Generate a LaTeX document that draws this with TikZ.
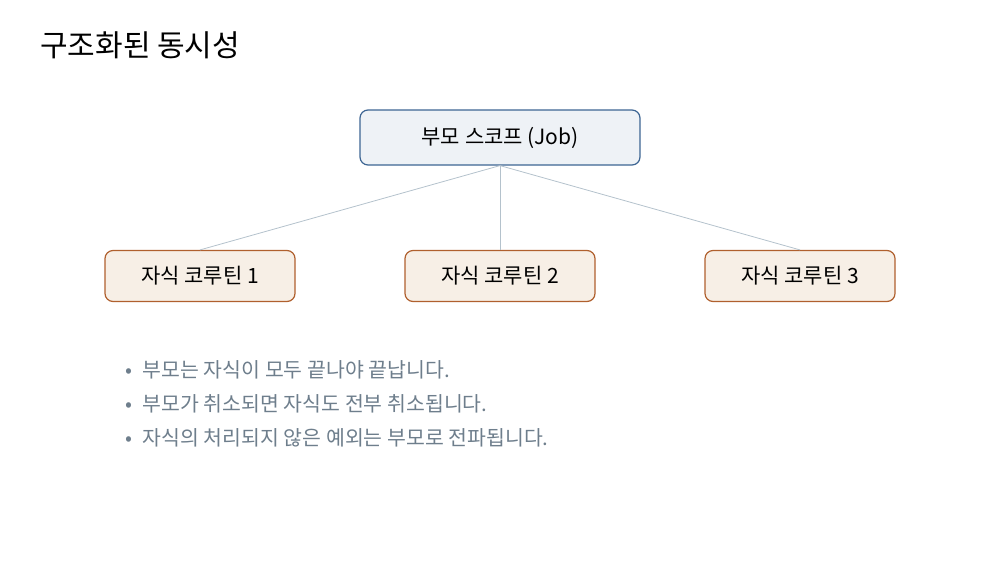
\documentclass[tikz,border=0pt]{standalone}
\usepackage{fontspec}
\setmainfont{Noto Sans CJK KR}
\usetikzlibrary{positioning}
\definecolor{jobfill}{HTML}{EEF2F6}
\definecolor{jobline}{HTML}{3D6593}
\definecolor{kidfill}{HTML}{F7EFE6}
\definecolor{kidline}{HTML}{B0602E}
\definecolor{linkgray}{HTML}{B4C2CC}
\definecolor{notegray}{HTML}{6E7E8C}
\tikzset{
  parent/.style={draw=jobline,fill=jobfill,line width=1.2pt,rounded corners=8pt,
    minimum width=280pt,minimum height=55pt,font=\fontsize{21}{24}\selectfont},
  kid/.style={draw=kidline,fill=kidfill,line width=1.2pt,rounded corners=8pt,
    minimum width=190pt,minimum height=51pt,font=\fontsize{21}{24}\selectfont},
  link/.style={draw=linkgray,line width=.8pt},
  note/.style={anchor=west,text=notegray,font=\fontsize{20.5}{24}\selectfont}
}
\begin{document}
\begin{tikzpicture}[x=1pt,y=-1pt]
\useasboundingbox (0,0) rectangle (1000,560);
\node[anchor=west,inner sep=0pt,font=\fontsize{30}{36}\selectfont] (title) at (40,45) {구조화된 동시성};
%
% tree
\node[parent] (job) at (500,137.5) {부모 스코프 (Job)};
\node[kid] (kid1) at (200,276) {자식 코루틴 1};
\node[kid] (kid2) at (500,276) {자식 코루틴 2};
\node[kid] (kid3) at (800,276) {자식 코루틴 3};
\foreach \k in {kid1,kid2,kid3}
\draw[link] (job.south) -- (\k.north);
%
% notes
\node[note] (n1) at (122,370) {\textbullet\enspace 부모는 자식이 모두 끝나야 끝납니다.};
\node[note] (n2) at (122,404) {\textbullet\enspace 부모가 취소되면 자식도 전부 취소됩니다.};
\node[note] (n3) at (122,438) {\textbullet\enspace 자식의 처리되지 않은 예외는 부모로 전파됩니다.};
\end{tikzpicture}
\end{document}
